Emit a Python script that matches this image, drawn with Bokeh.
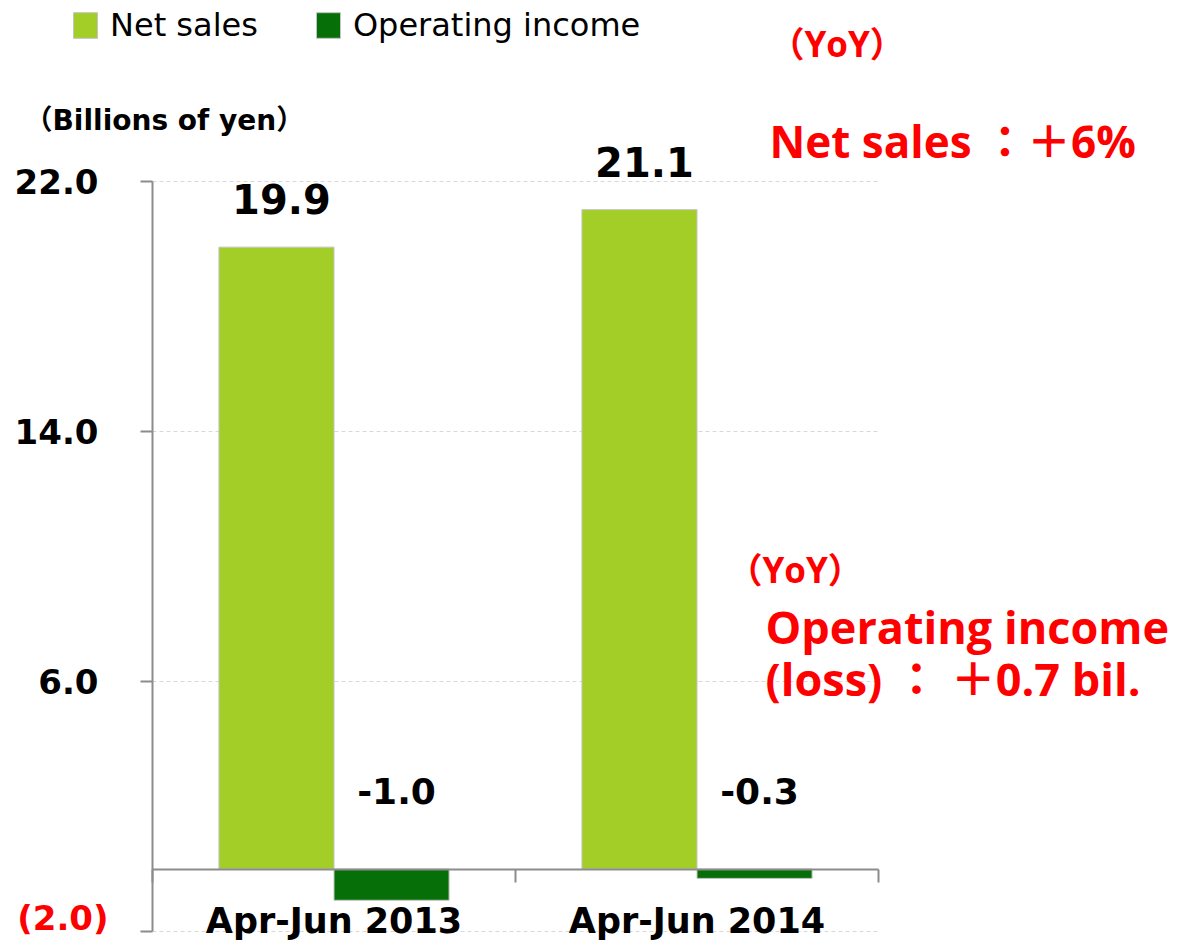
from bokeh.plotting import figure
from bokeh.models import (Range1d, LinearAxis, FixedTicker, NumeralTickFormatter,
                          ColumnDataSource, Label, Legend, LegendItem)
from bokeh.core.properties import value
from bokeh.embed import file_html
from bokeh.resources import INLINE

# ---------------- data ----------------
categories = ["Apr-Jun 2013", "Apr-Jun 2014"]
net_sales = [19.9, 21.1]
operating_income = [-1.0, -0.3]
y_ticks = [-2.0, 6.0, 14.0, 22.0]
series_names = ["Net sales", "Operating income"]
unit_text = "（Billions of yen）"
yoy_text = "（YoY）"
net_sales_yoy_text = "Net sales ：＋6%"
op_yoy_lines = ["Operating income", "(loss)   ： ＋0.7 bil."]

# ---------------- layout ----------------
W, H = 1177, 944
PX_PER_CAT = 363.0
PX_PER_UNIT = 31.25
X0 = 152.0      # canvas px of x = 0
Y0 = 868.5      # canvas px (from top) of y = 0


def dx(px):
    return (px - X0) / PX_PER_CAT


def dy(py):
    return (Y0 - py) / PX_PER_UNIT


GREEN_LIGHT = "#A3CE27"
GREEN_DARK = "#076F07"
AXIS_GRAY = "#8C8C8C"
RED = "#FF0000"
BLACK_FONT = "DejaVu Sans, Noto Sans CJK JP"
RED_FONT = "Open Sans, Noto Sans CJK JP"

n = len(categories)
centers = [i + 0.5 for i in range(n)]
BAR_W = 0.317

src = ColumnDataSource(dict(
    x_net=[c - BAR_W / 2 for c in centers],
    x_op=[c + BAR_W / 2 for c in centers],
    net=net_sales,
    op=operating_income,
    net_txt=[f"{v:.1f}" for v in net_sales],
    op_txt=[f"{v:.1f}" for v in operating_income],
))

p = figure(width=W, height=H,
           x_range=Range1d(dx(0), dx(W)), y_range=Range1d(dy(H), dy(0)),
           x_axis_type=None, y_axis_type=None,
           toolbar_location=None, output_backend="svg",
           min_border=0, title=None, outline_line_color=None)
p.grid.visible = False

# grid lines (dashed) at the y ticks
p.segment(x0=[0] * len(y_ticks), x1=[n] * len(y_ticks), y0=y_ticks, y1=y_ticks,
          line_color="#D9D9D9", line_width=1, line_dash="4 3")

r_net = p.vbar(x="x_net", top="net", bottom=0, width=BAR_W, source=src,
               fill_color=GREEN_LIGHT, line_color="#C4C4C4", line_width=1)
r_op = p.vbar(x="x_op", top="op", bottom=0, width=BAR_W, source=src,
              fill_color=GREEN_DARK, line_color="#C4C4C4", line_width=1)

# data labels
p.text(x="x_net", y="net", text="net_txt", source=src,
       text_font=value("DejaVu Sans"), text_font_style="bold", text_font_size="40px",
       text_align="center", text_baseline="alphabetic", text_color="#000000",
       x_offset=5, y_offset=-48)
p.text(x="x_op", y=0, text="op_txt", source=src,
       text_font=value("DejaVu Sans"), text_font_style="bold", text_font_size="36px",
       text_align="center", text_baseline="alphabetic", text_color="#000000",
       x_offset=5, y_offset=-78)

# y axis (main)
yax = LinearAxis(fixed_location=0, bounds=(y_ticks[0], y_ticks[-1]),
                 ticker=FixedTicker(ticks=[t for t in y_ticks if t >= 0]),
                 formatter=NumeralTickFormatter(format="(0.0)"))
yax.axis_line_color = AXIS_GRAY
yax.axis_line_width = 2
yax.major_tick_line_color = AXIS_GRAY
yax.major_tick_line_width = 2
yax.major_tick_out = 12
yax.major_tick_in = 0
yax.minor_tick_line_color = None
yax.major_label_standoff = 42
yax.major_label_text_font = BLACK_FONT
yax.major_label_text_font_style = "bold"
yax.major_label_text_font_size = "34px"
yax.major_label_text_color = "#000000"
p.add_layout(yax, "left")

# y axis negative tick (red label)
yax_neg = LinearAxis(fixed_location=0,
                     ticker=FixedTicker(ticks=[t for t in y_ticks if t < 0]),
                     formatter=NumeralTickFormatter(format="(0.0)"))
yax_neg.axis_line_color = None
yax_neg.major_tick_line_color = AXIS_GRAY
yax_neg.major_tick_line_width = 2
yax_neg.major_tick_out = 12
yax_neg.major_tick_in = 0
yax_neg.minor_tick_line_color = None
yax_neg.major_label_standoff = 32
yax_neg.major_label_text_font = BLACK_FONT
yax_neg.major_label_text_font_style = "bold"
yax_neg.major_label_text_font_size = "34px"
yax_neg.major_label_text_color = RED
p.add_layout(yax_neg, "left")

# x axis at zero: category labels at centres, boundary ticks as minor ticks
xax = LinearAxis(fixed_location=0, bounds=(0, n),
                 ticker=FixedTicker(ticks=centers, minor_ticks=list(range(n + 1))),
                 major_label_overrides={c: cat for c, cat in zip(centers, categories)})
xax.axis_line_color = AXIS_GRAY
xax.axis_line_width = 2
xax.major_tick_line_color = None
xax.minor_tick_line_color = AXIS_GRAY
xax.minor_tick_line_width = 2
xax.minor_tick_out = 13
xax.minor_tick_in = 0
xax.major_label_standoff = 19
xax.major_label_text_font = BLACK_FONT
xax.major_label_text_font_style = "bold"
xax.major_label_text_font_size = "35px"
xax.major_label_text_color = "#000000"
p.add_layout(xax, "below")

# legend
legend = Legend(items=[LegendItem(label=value(series_names[0]), renderers=[r_net]),
                       LegendItem(label=value(series_names[1]), renderers=[r_op])],
                orientation="horizontal", location=(70, H - 44),
                padding=0, margin=0, spacing=55, label_standoff=10,
                glyph_width=30, glyph_height=32, label_height=32,
                label_text_font="DejaVu Sans", label_text_font_size="32px",
                label_text_color="#000000",
                border_line_color=None, background_fill_alpha=0)
p.add_layout(legend)

# unit label
p.add_layout(Label(x=dx(24), y=dy(120), text=unit_text,
                   text_font=BLACK_FONT, text_font_style="bold", text_font_size="28px",
                   text_baseline="alphabetic", text_align="left", text_color="#000000"))

# red YoY annotations
red_kw = dict(text_font=RED_FONT, text_font_style="bold", text_color=RED,
              text_baseline="alphabetic", text_align="left")
p.add_layout(Label(x=dx(769), y=dy(43), text=yoy_text, text_font_size="35px", **red_kw))
p.add_layout(Label(x=dx(769), y=dy(140), text=net_sales_yoy_text, text_font_size="44px", **red_kw))
p.add_layout(Label(x=dx(727), y=dy(569), text=yoy_text, text_font_size="35px", **red_kw))
p.add_layout(Label(x=dx(765), y=dy(626), text=op_yoy_lines[0], text_font_size="45px", **red_kw))
p.add_layout(Label(x=dx(765), y=dy(678), text=op_yoy_lines[1], text_font_size="45px", **red_kw))

open("out.html", "w").write(file_html(p, INLINE))
